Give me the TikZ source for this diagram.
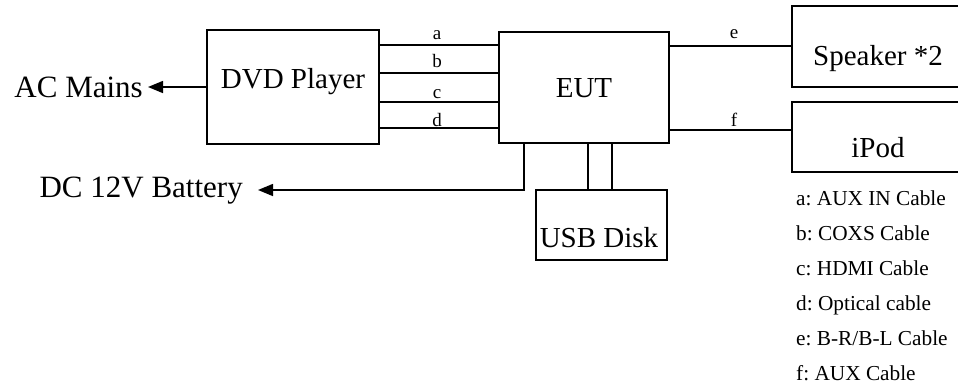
\documentclass[tikz,border=0pt]{standalone}
\usepackage{fontspec}
\setmainfont{Liberation Serif}
\usetikzlibrary{positioning,arrows.meta}

\tikzset{
    box/.style={draw, line width=1.5pt, inner sep=0pt},
    wire/.style={line width=1.5pt},
    bigtxt/.style={font=\fontsize{29}{29}\selectfont, inner sep=0pt, anchor=base},
    sidetxt/.style={font=\fontsize{31}{31}\selectfont, inner sep=0pt, anchor=base east},
    wiretxt/.style={font=\fontsize{19}{19}\selectfont, inner sep=0pt, anchor=base},
    legtxt/.style={font=\fontsize{21.3}{21.3}\selectfont\frenchspacing, inner sep=0pt, anchor=base west},
    tip/.style={-{Triangle[length=15pt,width=12pt]}}
}

\begin{document}
\begin{tikzpicture}[x=1pt, y=-1pt]
        \useasboundingbox (0,0) rectangle (958,389);
        \clip (0,0) rectangle (958,389);

        % Boxes
        \node[box, minimum width=172pt, minimum height=114pt] (dvd) at (293,87) {};
        \node[box, minimum width=170pt, minimum height=111pt] (eut) at (584,87.5) {};
        \node[box, minimum width=180pt, minimum height=81pt] (spk) at (882,46.5) {};
        \node[box, minimum width=180pt, minimum height=70pt] (ipod) at (882,137) {};
        \node[box, minimum width=131pt, minimum height=70pt] (usb) at (601.5,225) {};

        % Box texts
        \node[bigtxt] (dvdtxt) at (293,88) {DVD Player};
        \node[bigtxt] (euttxt) at (584,97) {EUT};
        \node[bigtxt] (spktxt) at (878,65) {Speaker *2};
        \node[bigtxt] (ipodtxt) at (878,157) {iPod};
        \node[bigtxt] (usbtxt) at (599,247) {USB Disk};

        % --- Power ---
        \node[sidetxt] (ac) at (143,97) {AC Mains};
        \coordinate (actip) at (148,87);
        \draw[wire, tip] (dvd.west) -- (actip);

        \node[sidetxt] (dc) at (243,197) {DC 12V Battery};
        \coordinate (dcx) at (524,0);
        \coordinate (dctip) at (258,190);
        \draw[wire, tip] (eut.south -| dcx) |- (dctip);

        % --- Cables a-d ---
        \foreach \w/\y/\ly in {a/45/39, b/73/67, c/102/98, d/128/126}
        {
            \coordinate (y\w) at (0,\y);
            \draw[wire] (dvd.east |- y\w) -- (eut.west |- y\w);
            \node[wiretxt] (w\w) at (437,\ly) {\w};
        }

        % --- Cables e, f ---
        \foreach \w/\y/\ly/\dst in {e/46/38/spk, f/130/126/ipod}
        {
            \coordinate (y\w) at (0,\y);
            \draw[wire] (eut.east |- y\w) -- (\dst.west |- y\w);
            \node[wiretxt] (w\w) at (734,\ly) {\w};
        }

        % --- USB ---
        \foreach \x/\n in {588/1, 612/2}
        {
            \coordinate (u\n) at (\x,0);
            \draw[wire] (eut.south -| u\n) -- (usb.north -| u\n);
        }

        % --- Legend ---
        \foreach \i/\t in {0/{a: AUX IN Cable}, 1/{b: COXS Cable}, 2/{c: HDMI Cable},
                           3/{d: Optical cable}, 4/{e: B-R/B-L Cable}, 5/{f: AUX Cable}}
        {
            \node[legtxt] (leg\i) at (796,205+35*\i) {\t};
        }
    \end{tikzpicture}
\end{document}
